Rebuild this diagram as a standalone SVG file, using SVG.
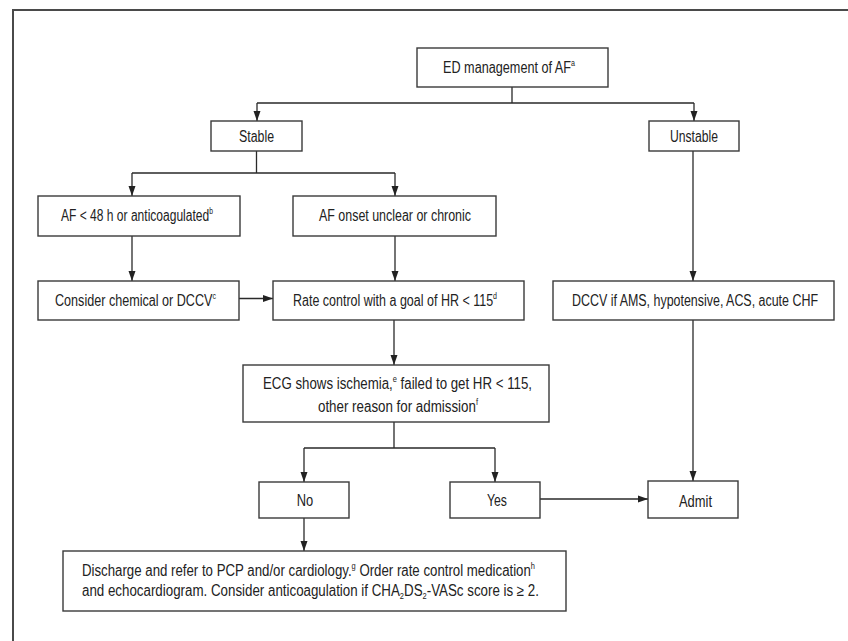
<svg xmlns="http://www.w3.org/2000/svg" width="848" height="641" viewBox="0 0 848 641">
<style>
.bg{fill:#ffffff}
.frame{fill:none;stroke:#4a4a4a;stroke-width:2}
.box{fill:#ffffff;stroke:#3a3a3a;stroke-width:1.4}
.t{font-family:"Liberation Sans",Arial,sans-serif;font-size:16px;fill:#222222;text-anchor:middle}
.sup{font-size:9px}
.sub{font-size:9px}
.c{fill:none;stroke:#2a2a2a;stroke-width:1.3}
</style>
<defs>
<marker id="ah" markerUnits="userSpaceOnUse" markerWidth="10" markerHeight="10" viewBox="0 0 10 10" refX="10" refY="5" orient="auto">
<path d="M0,1.5 L10,5 L0,8.5 Z" fill="#222222"/>
</marker>
</defs>
<rect class="bg" x="0" y="0" width="848" height="641"/>
<path class="frame" d="M13,641 V10 H848"/>

<g id="connectors">
<path class="c" d="M512,87 V103 M257,103 H694"/>
<path class="c" d="M257,103 V121" marker-end="url(#ah)"/>
<path class="c" d="M694,103 V121" marker-end="url(#ah)"/>
<path class="c" d="M256.5,151 V173 M132,173 H395"/>
<path class="c" d="M132,173 V196" marker-end="url(#ah)"/>
<path class="c" d="M395,173 V196" marker-end="url(#ah)"/>
<path class="c" d="M132,236 V281" marker-end="url(#ah)"/>
<path class="c" d="M395,236 V281" marker-end="url(#ah)"/>
<path class="c" d="M239,298.5 H273" marker-end="url(#ah)"/>
<path class="c" d="M394,320 V365" marker-end="url(#ah)"/>
<path class="c" d="M693,151 V281" marker-end="url(#ah)"/>
<path class="c" d="M693,320 V481" marker-end="url(#ah)"/>
<path class="c" d="M394,422 V448 M304,448 H495"/>
<path class="c" d="M304,448 V482" marker-end="url(#ah)"/>
<path class="c" d="M495,448 V482" marker-end="url(#ah)"/>
<path class="c" d="M540,499 H648" marker-end="url(#ah)"/>
<path class="c" d="M304,518 V551" marker-end="url(#ah)"/>
</g>

<g id="n-title">
<rect class="box" x="417" y="48" width="191" height="39"/>
<text class="t" x="509" y="73" textLength="132" lengthAdjust="spacingAndGlyphs">ED management of AF<tspan class="sup" dy="-7">a</tspan></text>
</g>
<g id="n-stable">
<rect class="box" x="211" y="121" width="91" height="30"/>
<text class="t" x="256.5" y="141.5" textLength="35" lengthAdjust="spacingAndGlyphs">Stable</text>
</g>
<g id="n-unstable">
<rect class="box" x="649" y="121" width="90" height="30"/>
<text class="t" x="694" y="141.5" textLength="48" lengthAdjust="spacingAndGlyphs">Unstable</text>
</g>
<g id="n-af48">
<rect class="box" x="38" y="196" width="202" height="40"/>
<text class="t" x="137" y="221" textLength="152" lengthAdjust="spacingAndGlyphs">AF &lt; 48 h or anticoagulated<tspan class="sup" dy="-7">b</tspan></text>
</g>
<g id="n-onset">
<rect class="box" x="293" y="196" width="203" height="40"/>
<text class="t" x="395" y="221" textLength="152" lengthAdjust="spacingAndGlyphs">AF onset unclear or chronic</text>
</g>
<g id="n-consider">
<rect class="box" x="38" y="281" width="201" height="39"/>
<text class="t" x="135.5" y="306" textLength="161" lengthAdjust="spacingAndGlyphs">Consider chemical or DCCV<tspan class="sup" dy="-7">c</tspan></text>
</g>
<g id="n-rate">
<rect class="box" x="273" y="281" width="251" height="39"/>
<text class="t" x="395" y="306" textLength="204" lengthAdjust="spacingAndGlyphs">Rate control with a goal of HR &lt; 115<tspan class="sup" dy="-7">d</tspan></text>
</g>
<g id="n-dccv">
<rect class="box" x="553" y="281" width="281" height="39"/>
<text class="t" x="695" y="306" textLength="246" lengthAdjust="spacingAndGlyphs">DCCV if AMS, hypotensive, ACS, acute CHF</text>
</g>
<g id="n-ecg">
<rect class="box" x="243" y="365" width="306" height="57"/>
<text class="t" x="397.5" y="389" textLength="269" lengthAdjust="spacingAndGlyphs">ECG shows ischemia,<tspan class="sup" dy="-7">e</tspan><tspan dy="7"> failed to get HR &lt; 115,</tspan></text>
<text class="t" x="398" y="412" textLength="160" lengthAdjust="spacingAndGlyphs">other reason for admission<tspan class="sup" dy="-7">f</tspan></text>
</g>
<g id="n-no">
<rect class="box" x="259" y="482" width="90" height="36"/>
<text class="t" x="305" y="506" textLength="16.5" lengthAdjust="spacingAndGlyphs">No</text>
</g>
<g id="n-yes">
<rect class="box" x="450" y="482" width="90" height="36"/>
<text class="t" x="497" y="506" textLength="20" lengthAdjust="spacingAndGlyphs">Yes</text>
</g>
<g id="n-admit">
<rect class="box" x="648" y="481" width="90" height="37"/>
<text class="t" x="695.5" y="506.5" textLength="33" lengthAdjust="spacingAndGlyphs">Admit</text>
</g>
<g id="n-discharge">
<rect class="box" x="63" y="551" width="503" height="60"/>
<text class="t" x="308.5" y="576" textLength="453" lengthAdjust="spacingAndGlyphs">Discharge and refer to PCP and/or cardiology.<tspan class="sup" dy="-7">g</tspan><tspan dy="7"> Order rate control medication</tspan><tspan class="sup" dy="-7">h</tspan></text>
<text class="t" x="310.5" y="596" textLength="457" lengthAdjust="spacingAndGlyphs">and echocardiogram. Consider anticoagulation if CHA<tspan class="sub" dy="3">2</tspan><tspan dy="-3">DS</tspan><tspan class="sub" dy="3">2</tspan><tspan dy="-3">-VASc score is ≥ 2.</tspan></text>
</g>
</svg>
